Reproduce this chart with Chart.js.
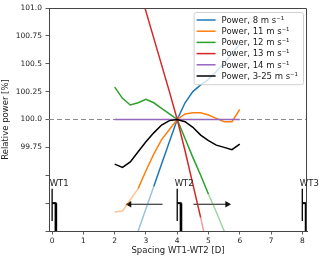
<!DOCTYPE html>
<html>
<head>
<meta charset="utf-8">
<script src="https://cdn.jsdelivr.net/npm/chart.js@4.4.0/dist/chart.umd.min.js"></script>
<style>
  html, body { margin: 0; padding: 0; background: #fff; }
</style>
</head>
<body>
<canvas id="grafica" width="320" height="259"></canvas>
<script>
// Espaciado WT1-WT2 [D] y potencia relativa [%] de cada serie
const espaciado = [2, 2.25, 2.5, 2.75, 3, 3.25, 3.5, 3.75, 4, 4.25, 4.5, 4.75, 5, 5.25, 5.5, 5.75, 6];
const potencia8 = [98.4, 98.6, 98.8, 99.0, 99.2, 99.4, 99.6, 99.8, 100, 100.15, 100.25, 100.31, 100.36, 100.43, 100.51, 100.59, 100.68];
const potencia11 = [99.17, 99.18, 99.28, 99.38, 99.54, 99.69, 99.82, 99.91, 100, 100.05, 100.06, 100.06, 100.04, 100.01, 99.98, 99.98, 100.09];
const potencia12 = [100.29, 100.19, 100.13, 100.15, 100.18, 100.15, 100.1, 100.05, 100, 99.83, 99.66, 99.5, 99.33, 99.17, 99.0, 98.83, 98.67];
const potencia13 = [101.95, 101.7, 101.45, 101.2, 100.97, 100.73, 100.49, 100.25, 100, 99.72, 99.42, 99.12, 98.8, 98.5, 98.2, 97.9, 97.6];
const potencia14 = [100, 100, 100, 100, 100, 100, 100, 100, 100, 100, 100, 100, 100, 100, 100, 100, 100];
const potenciaTotal = [99.6, 99.57, 99.62, 99.71, 99.8, 99.88, 99.95, 99.99, 100, 99.98, 99.93, 99.86, 99.81, 99.77, 99.75, 99.73, 99.78];

const nombres = ['Power, 8 m s⁻¹', 'Power, 11 m s⁻¹', 'Power, 12 m s⁻¹', 'Power, 13 m s⁻¹', 'Power, 14 m s⁻¹', 'Power, 3-25 m s⁻¹'];
// tramo de espaciado que se dibuja con color pleno (fuera de él, atenuado)
const tramoPleno = [[3.25, 6], [2.75, 6], [2, 5], [2, 4.75], [2, 6], [2, 6]];

// Turbinas y flechas
const turbinasX = [0, 4, 8];
const turbinasNombre = ['WT1', 'WT2', 'WT3'];
const flechaIzq = [3.53, 2.47];
const flechaDer = [4.52, 5.6];

// Ticks
const ticksX = [0, 1, 2, 3, 4, 5, 6, 7, 8];
const ticksY = [99, 99.25, 99.5, 99.75, 100, 100.25, 100.5, 100.75, 101];
const etiquetasY = ['', '', '', '99.75', '100.0', '100.25', '100.5', '100.75', '101.0'];

const colores = ['31,119,180', '255,127,14', '44,160,44', '214,39,40', '148,103,189', '0,0,0'];
const series = [potencia8, potencia11, potencia12, potencia13, potencia14, potenciaTotal];
const FUENTE = '"DejaVu Sans", sans-serif';

const datasets = [];

// Series de potencia (el negro queda encima)
series.forEach((serie, i) => {
    const [a, b] = tramoPleno[i];
    datasets.push({
        label: nombres[i],
        data: espaciado.map((x, j) => ({ x: x, y: serie[j] })),
        borderColor: `rgba(${colores[i]},1)`,
        borderWidth: 1.5,
        pointRadius: 0,
        order: 5 - i,
        segment: {
            borderColor: ctx => (ctx.p0.parsed.x >= a - 1e-6 && ctx.p1.parsed.x <= b + 1e-6)
                ? `rgba(${colores[i]},1)` : `rgba(${colores[i]},0.45)`
        }
    });
});

// Línea de referencia 100 %
datasets.push({
    label: 'ref',
    data: [{ x: -0.1, y: 100 }, { x: 8.15, y: 100 }],
    borderColor: '#8c8c8c',
    borderWidth: 1.2,
    borderDash: [5, 3],
    pointRadius: 0,
    order: 10
});

// Turbinas: rotor, buje y torre
turbinasX.forEach(t => {
    datasets.push({ label: 'rotor', data: [{ x: t, y: 99.38 }, { x: t, y: 99.09 }], borderColor: '#000', borderWidth: 1.3, pointRadius: 0, order: 8 });
    datasets.push({ label: 'buje', data: [{ x: t, y: 99.25 }, { x: t + 0.14, y: 99.25 }], borderColor: '#000', borderWidth: 2, pointRadius: 0, order: 8 });
    datasets.push({ label: 'torre', data: [{ x: t + 0.12, y: 99.25 }, { x: t + 0.12, y: 98.99 }], borderColor: '#000', borderWidth: 2.6, pointRadius: 0, order: 8 });
});

// Flechas
[[flechaIzq, -90], [flechaDer, 90]].forEach(([f, rot]) => {
    datasets.push({
        label: 'flecha',
        data: f.map(x => ({ x: x, y: 99.24 })),
        borderColor: '#111',
        backgroundColor: '#111',
        borderWidth: 1.2,
        pointRadius: [0, 2.6],
        pointStyle: 'triangle',
        rotation: rot,
        order: 8
    });
});

// Marco superior/derecho, nombres de turbinas y leyenda
const extras = {
    id: 'extras',
    afterDraw(chart) {
        const ctx = chart.ctx;
        const a = chart.chartArea;
        const sx = chart.scales.x, sy = chart.scales.y;
        ctx.save();

        ctx.strokeStyle = '#444';
        ctx.lineWidth = 1;
        ctx.beginPath();
        ctx.moveTo(a.left, a.top + 0.5);
        ctx.lineTo(a.right - 0.5, a.top + 0.5);
        ctx.lineTo(a.right - 0.5, a.bottom);
        ctx.stroke();

        ctx.font = '8.5px ' + FUENTE;
        ctx.fillStyle = '#222';
        ctx.textAlign = 'left';
        ctx.textBaseline = 'alphabetic';
        turbinasX.forEach((t, i) => {
            ctx.fillText(turbinasNombre[i], sx.getPixelForValue(t - 0.08), sy.getPixelForValue(99.4));
        });

        const anchoTexto = Math.max(...nombres.map(t => ctx.measureText(t).width));
        const fila = 11.2;
        const ancho = 3 + 19 + 6 + anchoTexto + 5;
        const alto = fila * nombres.length + 5;
        const x0 = a.right - 4 - ancho, y0 = a.top + 4;
        ctx.beginPath();
        ctx.roundRect(x0 + 0.5, y0 + 0.5, ancho, alto, 2);
        ctx.fillStyle = 'rgba(255,255,255,0.8)';
        ctx.fill();
        ctx.strokeStyle = '#d0d0d0';
        ctx.stroke();
        ctx.textBaseline = 'middle';
        nombres.forEach((t, i) => {
            const yy = y0 + 8 + i * fila;
            ctx.strokeStyle = `rgb(${colores[i]})`;
            ctx.lineWidth = 1.5;
            ctx.beginPath();
            ctx.moveTo(x0 + 3, yy);
            ctx.lineTo(x0 + 22, yy);
            ctx.stroke();
            ctx.fillStyle = '#222';
            ctx.fillText(t, x0 + 28, yy + 0.5);
        });
        ctx.restore();
    }
};

new Chart(document.getElementById('grafica').getContext('2d'), {
    type: 'line',
    data: { datasets: datasets },
    plugins: [extras],
    options: {
        responsive: false,
        animation: false,
        layout: { padding: { top: 5, right: 13, bottom: 0, left: 0 } },
        plugins: { legend: { display: false }, tooltip: { enabled: false } },
        scales: {
            x: {
                type: 'linear',
                min: -0.1,
                max: 8.15,
                afterBuildTicks: s => { s.ticks = ticksX.map(v => ({ value: v })); },
                afterFit: s => { s.height = 28; },
                ticks: { font: { family: FUENTE, size: 7.5 }, color: '#222', padding: 2, maxRotation: 0, callback: v => String(v) },
                grid: { display: true, drawOnChartArea: false, drawTicks: true, tickLength: 3.5, tickColor: '#333', tickWidth: 0.8 },
                border: { display: true, color: '#444', width: 1 },
                title: { display: true, text: 'Spacing WT1-WT2 [D]', font: { family: FUENTE, size: 8.5 }, color: '#222', padding: { top: 0, bottom: 3 } }
            },
            y: {
                type: 'linear',
                min: 99,
                max: 101,
                afterBuildTicks: s => { s.ticks = ticksY.map(v => ({ value: v })); },
                afterFit: s => { s.width = 49; },
                ticks: { font: { family: FUENTE, size: 7.5 }, color: '#222', padding: 3.5, callback: (v, i) => etiquetasY[i] },
                grid: { display: true, drawOnChartArea: false, drawTicks: true, tickLength: 3.5, tickColor: '#333', tickWidth: 0.8 },
                border: { display: true, color: '#444', width: 1 },
                title: { display: true, text: 'Relative power [%]', font: { family: FUENTE, size: 8.5 }, color: '#222', padding: { top: 1, bottom: 0 } }
            }
        }
    }
});
</script>
</body>
</html>
